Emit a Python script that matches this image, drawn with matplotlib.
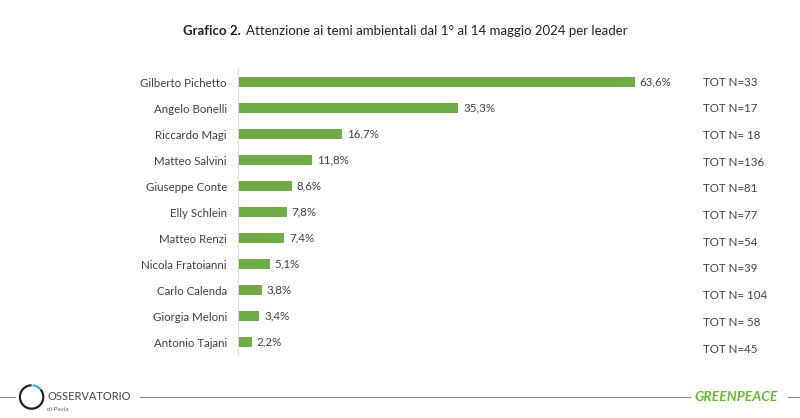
import matplotlib.pyplot as plt
import matplotlib.patches as patches
from matplotlib.lines import Line2D

plt.rcParams['font.family'] = ['Lato', 'DejaVu Sans']

leaders = ["Gilberto Pichetto", "Angelo Bonelli", "Riccardo Magi", "Matteo Salvini",
           "Giuseppe Conte", "Elly Schlein", "Matteo Renzi", "Nicola Fratoianni",
           "Carlo Calenda", "Giorgia Meloni", "Antonio Tajani"]
values = [63.6, 35.3, 16.7, 11.8, 8.6, 7.8, 7.4, 5.1, 3.8, 3.4, 2.2]
tot_labels = ["TOT N=33", "TOT N=17", "TOT N= 18", "TOT N=136", "TOT N=81", "TOT N=77",
              "TOT N=54", "TOT N=39", "TOT N= 104", "TOT N= 58", "TOT N=45"]

green = "#70ad47"
text_col = "#404040"

fig = plt.figure(figsize=(8, 4.18), dpi=100)
ax = fig.add_axes([0.2975, 0.1507, 0.546, 0.684])

y = list(range(len(leaders)))
ax.barh(y, values, height=0.36, color=green)
ax.set_ylim(len(leaders) - 0.5, -0.5)
ax.set_xlim(0, 70)
for yi, v in zip(y, values):
    ax.text(v + 0.8, yi, f"{v:.1f}%".replace(".", ","), va="center", ha="left",
            fontsize=8.3, color=text_col)

ax.set_yticks(y)
ax.set_yticklabels(leaders, fontsize=8.3, color=text_col)
ax.tick_params(axis="y", length=0, pad=8)
ax.set_xticks([])
for s in ["top", "right", "bottom"]:
    ax.spines[s].set_visible(False)
ax.spines["left"].set_color("#d9d9d9")

# TOT N column (slightly wider spacing than the bars, as in the source)
for i, t in enumerate(tot_labels):
    ax.text(74.5, i * 1.027, t, va="center", ha="left", fontsize=8.3,
            color=text_col, clip_on=False)

# title
fig.text(0.229, 0.917, "Grafico 2.", fontsize=9.5, color="#222222", fontweight="bold")
fig.text(0.3075, 0.917, "Attenzione ai temi ambientali dal 1° al 14 maggio 2024 per leader",
         fontsize=9.5, color="#222222")

# footer
fy = 1 - 397 / 418
fig.add_artist(Line2D([0, 0.019], [fy, fy], color="#888888", lw=0.8))
fig.add_artist(Line2D([0.175, 0.862], [fy, fy], color="#888888", lw=0.8))
fig.add_artist(Line2D([0.985, 1.0], [fy, fy], color="#888888", lw=0.8))
fig.text(0.059, fy, "OSSERVATORIO", fontsize=8, color="#444444", va="center")
fig.text(0.059, fy - 0.03, "di Pavia", fontsize=4.5, color="#666666", va="center")
fig.text(0.868, fy, "GREENPEACE", fontsize=10, color="#66bb2e", va="center",
         fontweight="bold", style="italic")

lax = fig.add_axes([0.022, fy - 0.035, 0.035, 0.07])
lax.set_aspect("equal")
lax.axis("off")
lax.set_xlim(-1.2, 1.2)
lax.set_ylim(-1.2, 1.2)
lax.add_patch(patches.Arc((0, 0), 2, 2, theta1=90, theta2=400, color="#222222", lw=1.6))
lax.add_patch(patches.Arc((0, 0), 2, 2, theta1=40, theta2=85, color="#29b6d6", lw=1.6))

fig.savefig("out.png", dpi=100)
